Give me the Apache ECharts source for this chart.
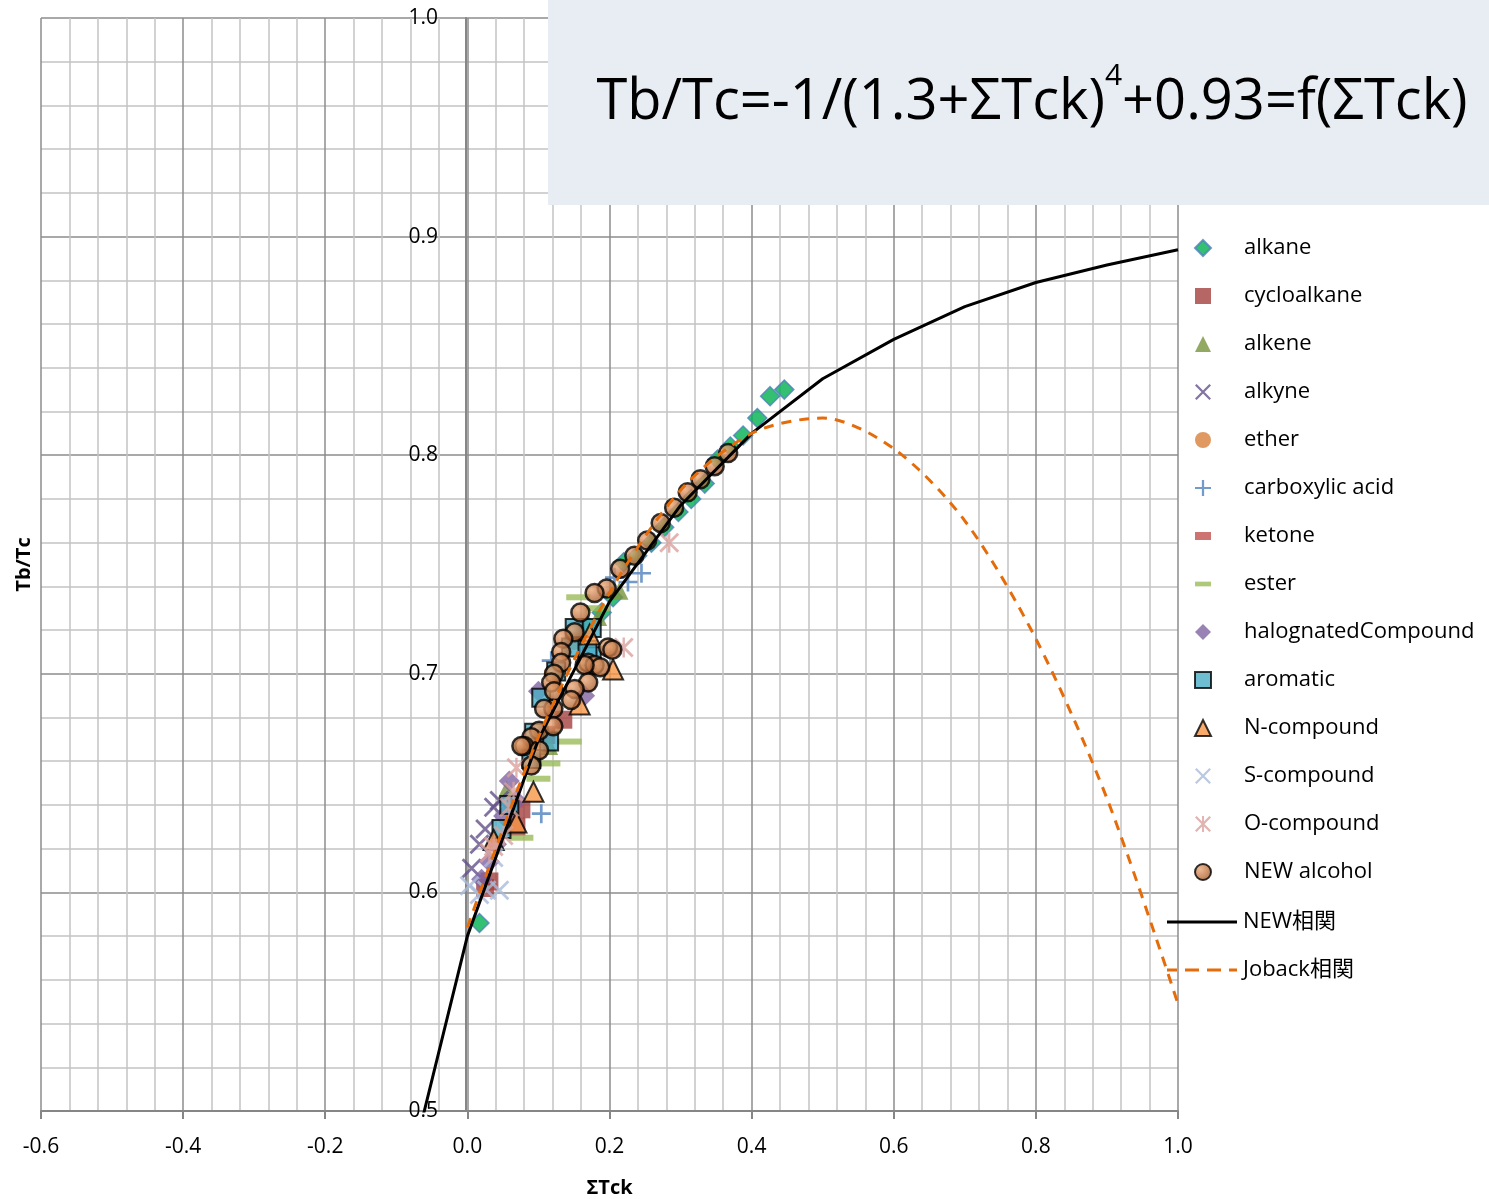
<!DOCTYPE html>
<html>
<head>
<meta charset="utf-8">
<script src="https://cdn.jsdelivr.net/npm/echarts@6/dist/echarts.min.js"></script>
<style>
  html, body { margin: 0; padding: 0; background: #fff; }
  #chart { width: 1489px; height: 1199px; }
</style>
</head>
<body>
<div id="chart"></div>
<script>
// values: [ΣTck, Tb/Tc]
const alkane = [[0.017, 0.586], [0.169, 0.722], [0.189, 0.728], [0.205, 0.735], [0.220, 0.751], [0.239, 0.754],
  [0.259, 0.760], [0.277, 0.767], [0.297, 0.774], [0.315, 0.780], [0.334, 0.787], [0.352, 0.798],
  [0.370, 0.804], [0.388, 0.809], [0.408, 0.817], [0.426, 0.827], [0.446, 0.830]]
const cycloalkane = [[0.031, 0.605], [0.025, 0.602], [0.069, 0.630], [0.135, 0.679], [0.076, 0.638], [0.111, 0.672]]
const alkene = [[0.214, 0.738], [0.184, 0.726], [0.115, 0.667], [0.055, 0.647]]
const alkyne = [[0.006, 0.611], [0.017, 0.622], [0.037, 0.639], [0.025, 0.629], [0.045, 0.642]]
const ether = [[0.12, 0.700], [0.15, 0.715], [0.09, 0.668]]
const carboxylicAcid = [[0.104, 0.636], [0.245, 0.746], [0.226, 0.742], [0.207, 0.744], [0.118, 0.706], [0.060, 0.640]]
const ketone = [[0.12, 0.680], [0.07, 0.640]]
const ester = [[0.156, 0.735], [0.184, 0.730], [0.144, 0.669], [0.114, 0.659], [0.100, 0.652], [0.076, 0.625]]
const halogenated = [[0.031, 0.614], [0.051, 0.635], [0.059, 0.651], [0.100, 0.692], [0.165, 0.690], [0.041, 0.622],
  [0.020, 0.606], [0.069, 0.642]]
const aromatic = [[0.151, 0.721], [0.175, 0.721], [0.175, 0.708], [0.146, 0.712], [0.104, 0.689], [0.115, 0.669],
  [0.094, 0.673], [0.169, 0.711], [0.125, 0.701], [0.090, 0.661], [0.059, 0.640], [0.048, 0.629]]
const nCompound = [[0.172, 0.718], [0.205, 0.702], [0.158, 0.686], [0.093, 0.646], [0.069, 0.632], [0.037, 0.624]]
const sCompound = [[0.003, 0.603], [0.027, 0.601], [0.045, 0.601], [0.037, 0.616], [0.017, 0.599]]
const oCompound = [[0.284, 0.760], [0.220, 0.712], [0.069, 0.657], [0.065, 0.646], [0.059, 0.639], [0.051, 0.626],
  [0.037, 0.621], [0.031, 0.618]]
const newAlcohol = [[0.367, 0.801], [0.348, 0.795], [0.328, 0.789], [0.310, 0.783], [0.291, 0.776], [0.272, 0.769],
  [0.253, 0.761], [0.235, 0.754], [0.215, 0.748], [0.196, 0.739], [0.179, 0.737], [0.159, 0.728],
  [0.151, 0.719], [0.135, 0.716], [0.132, 0.710], [0.198, 0.712], [0.204, 0.711], [0.132, 0.705],
  [0.170, 0.705], [0.179, 0.704], [0.187, 0.703], [0.165, 0.704], [0.122, 0.700], [0.118, 0.696],
  [0.170, 0.696], [0.151, 0.693], [0.146, 0.688], [0.122, 0.692], [0.121, 0.684], [0.108, 0.684],
  [0.101, 0.674], [0.121, 0.676], [0.090, 0.671], [0.080, 0.667], [0.101, 0.665], [0.090, 0.658],
  [0.076, 0.667]]

// correlation lines
const newCorrX = [-0.1, 0, 0.1, 0.2, 0.3, 0.4, 0.5, 0.6, 0.7, 0.8, 0.9, 1.0]
const newCorrY = [0.448, 0.580, 0.670, 0.733, 0.777, 0.810, 0.835, 0.853, 0.868, 0.879, 0.887, 0.894]
const jobackX = [0, 0.1, 0.2, 0.3, 0.4, 0.5, 0.6, 0.7, 0.8, 0.9, 1.0]
const jobackY = [0.584, 0.671, 0.737, 0.784, 0.810, 0.817, 0.803, 0.770, 0.716, 0.643, 0.549]

const FONT = '"Open Sans", "Noto Sans CJK JP", sans-serif'
const PATH_X = 'path://M0,1L1,0L10,9L9,10Z M9,0L10,1L1,10L0,9Z'
const PATH_PLUS = 'path://M4.3,0H5.7V4.3H10V5.7H5.7V10H4.3V5.7H0V4.3H4.3Z'
const PATH_STAR = 'path://M0,1L1,0L10,9L9,10Z M9,0L10,1L1,10L0,9Z M4.4,0H5.6V10H4.4Z'
const PATH_DASH = 'path://M0,0H17V5H0Z'
const PATH_SHORT = 'path://M0,0H10V5H0Z'
const ICON_SOLID = 'path://M0,0H70V3H0Z'
const ICON_DASHED = 'path://M0,0H10V3H0Z M18,0H32V3H18Z M40,0H54V3H40Z M62,0H70V3H62Z'

function zip(xs, ys) {
  return xs.map((x, i) => [x, ys[i]])
}

function scatter(name, data, symbol, size, itemStyle) {
  return { name, type: 'scatter', data, symbol, symbolSize: size, itemStyle }
}

const chart = echarts.init(document.getElementById('chart'))

const scatterNames = ['alkane', 'cycloalkane', 'alkene', 'alkyne', 'ether', 'carboxylic acid', 'ketone', 'ester',
  'halognatedCompound', 'aromatic', 'N-compound', 'S-compound', 'O-compound', 'NEW alcohol']

chart.setOption({
  animation: false,
  backgroundColor: '#fff',
  grid: { left: 41, right: 311, top: 18, bottom: 88, outerBoundsMode: 'none' },
  xAxis: {
    type: 'value',
    min: -0.6,
    max: 1.0,
    interval: 0.2,
    name: 'ΣTck',
    nameLocation: 'middle',
    nameGap: 67,
    nameTextStyle: { fontFamily: FONT, fontSize: 20, fontWeight: 'bold', color: '#000' },
    axisLine: { onZero: false, lineStyle: { color: '#868686', width: 2 } },
    axisTick: { show: true, length: 8, lineStyle: { color: '#868686', width: 2 } },
    axisLabel: { margin: 26, fontFamily: FONT, fontSize: 21, color: '#000', formatter: v => v.toFixed(1) },
    splitLine: { show: true, lineStyle: { color: '#8c8c8c', width: 1.5 } },
    minorTick: { show: false, splitNumber: 5 },
    minorSplitLine: { show: true, lineStyle: { color: '#c4c4c4', width: 1.5 } }
  },
  yAxis: {
    type: 'value',
    min: 0.5,
    max: 1.0,
    interval: 0.1,
    // the vertical axis crosses at ΣTck = 0
    offset: -425,
    name: 'Tb/Tc',
    nameLocation: 'middle',
    nameGap: 432,
    nameTextStyle: { fontFamily: FONT, fontSize: 20, fontWeight: 'bold', color: '#000' },
    axisLine: { onZero: false, lineStyle: { color: '#868686', width: 2 } },
    axisTick: { show: false },
    axisLabel: { margin: 28, fontFamily: FONT, fontSize: 21, color: '#000', formatter: v => v.toFixed(1) },
    splitLine: { show: true, lineStyle: { color: '#8c8c8c', width: 1.5 } },
    minorTick: { show: false, splitNumber: 5 },
    minorSplitLine: { show: true, lineStyle: { color: '#c4c4c4', width: 1.5 } }
  },
  legend: [{
    data: scatterNames,
    orient: 'vertical',
    left: 1194,
    top: 237,
    padding: 0,
    itemWidth: 16,
    itemHeight: 16,
    itemGap: 26,
    selectedMode: false,
    textStyle: { fontFamily: FONT, fontSize: 22, color: '#000', lineHeight: 22, padding: [0, 0, 0, 28] }
  }, {
    data: [{ name: 'NEW相関', icon: ICON_SOLID }, { name: 'Joback相関', icon: ICON_DASHED }],
    orient: 'vertical',
    left: 1167,
    top: 911,
    padding: 0,
    itemWidth: 70,
    itemHeight: 16,
    itemGap: 26,
    selectedMode: false,
    textStyle: { fontFamily: FONT, fontSize: 22, color: '#000', lineHeight: 22, padding: [0, 0, 0, 1] }
  }],
  graphic: [{
    type: 'rect',
    left: 548,
    top: 0,
    z: 100,
    shape: { width: 941, height: 205 },
    style: { fill: '#e8edf4' }
  }, {
    type: 'text',
    x: 1032,
    y: 96,
    z: 101,
    style: {
      text: '{a|Tb/Tc=-1/(1.3+ΣTck)}{s|4}{a|+0.93=f(ΣTck)}',
      align: 'center',
      verticalAlign: 'middle',
      fill: '#000',
      rich: {
        a: { fontFamily: FONT, fontSize: 56, lineHeight: 70, verticalAlign: 'bottom' },
        s: { fontFamily: FONT, fontSize: 30, lineHeight: 70, verticalAlign: 'top' }
      }
    }
  }],
  series: [
    scatter('alkane', alkane, 'diamond', 19, { color: '#00b050', borderColor: '#4f81bd', borderWidth: 1.5 }),
    scatter('cycloalkane', cycloalkane, 'rect', 18, { color: '#a2403e' }),
    scatter('alkene', alkene, 'triangle', 18, { color: '#77933c' }),
    scatter('alkyne', alkyne, PATH_X, 20, { color: '#64508a' }),
    scatter('ether', ether, 'circle', 18, { color: '#d77f3a' }),
    scatter('carboxylic acid', carboxylicAcid, PATH_PLUS, 19, { color: '#4f81bd' }),
    scatter('ketone', ketone, PATH_SHORT, [12, 5], { color: '#c0504d' }),
    scatter('ester', ester, PATH_DASH, [24, 6], { color: '#9bbb59' }),
    scatter('halognatedCompound', halogenated, 'diamond', 21, { color: '#8064a2' }),
    scatter('aromatic', aromatic, 'rect', 18, { color: '#4bacc6', borderColor: '#000', borderWidth: 2 }),
    scatter('N-compound', nCompound, 'triangle', 20, { color: '#f79646', borderColor: '#000', borderWidth: 2 }),
    scatter('S-compound', sCompound, PATH_X, 20, { color: '#a9bcd9' }),
    scatter('O-compound', oCompound, PATH_STAR, 20, { color: '#d9a09e' }),
    {
      name: 'NEW相関',
      type: 'line',
      data: zip(newCorrX, newCorrY),
      showSymbol: false,
      symbol: 'none',
      lineStyle: { color: '#000', width: 3 },
      itemStyle: { color: '#000' }
    },
    {
      name: 'Joback相関',
      type: 'line',
      data: zip(jobackX, jobackY),
      smooth: 0.3,
      showSymbol: false,
      symbol: 'none',
      lineStyle: { color: '#e46c0a', width: 3, type: [10, 8] },
      itemStyle: { color: '#e46c0a' }
    },
    scatter('NEW alcohol', newAlcohol, 'circle', 18, {
      color: {
        type: 'radial', x: 0.35, y: 0.35, r: 0.75,
        colorStops: [{ offset: 0, color: '#eaa878' }, { offset: 1, color: '#9c5020' }]
      },
      borderColor: '#000',
      borderWidth: 2.5
    })
  ]
})
</script>
</body>
</html>
